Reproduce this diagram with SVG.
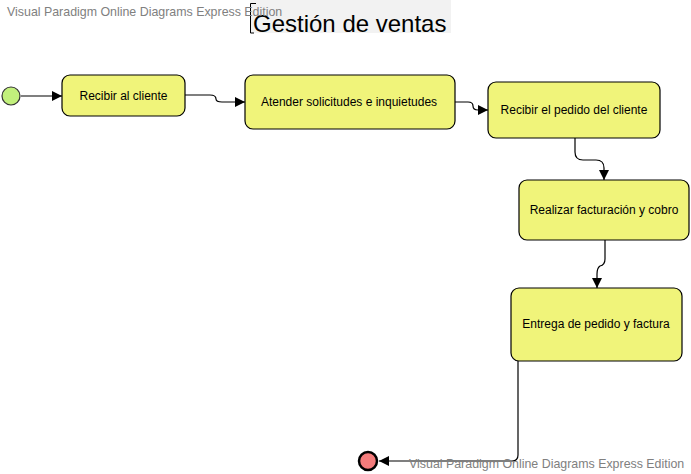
<svg xmlns="http://www.w3.org/2000/svg" width="691" height="474" viewBox="0 0 691 474">
<defs>
<style>
.node rect{fill:#f0f47a;stroke:#000;stroke-width:1.2}
.node text{font-family:"Liberation Sans",Arial,sans-serif;font-size:12px;fill:#000;text-anchor:middle}
.wm{font-family:"Liberation Sans",Arial,sans-serif;font-size:12.4px;fill:#808080}
.conn path{fill:none;stroke:#000;stroke-width:1.2}
</style>
<marker id="arr" viewBox="0 0 10 10" refX="10" refY="5" markerWidth="10" markerHeight="10" markerUnits="userSpaceOnUse" orient="auto">
<path d="M0,0 L10,5 L0,10 z" fill="#000"/>
</marker>
</defs>
<rect x="0" y="0" width="691" height="474" fill="#fff"/>
<g id="title">
<rect x="250" y="0" width="201" height="33" fill="#f2f2f2"/>
<path d="M256,3.5 H250.5 V33 H254" fill="none" stroke="#000" stroke-width="1"/>
<text x="253" y="32" font-family="Liberation Sans,Arial,sans-serif" font-size="24" fill="#000">Gestión de ventas</text>
</g>
<text class="wm" x="7" y="16">Visual Paradigm Online Diagrams Express Edition</text>
<g class="conn" id="connectors">
<path d="M21,96 H62" marker-end="url(#arr)"/>
<path d="M185,95 H210 Q216,95 216,99 Q216,102 222,102 H245" marker-end="url(#arr)"/>
<path d="M455,102 H468 Q473,102 473,106 Q473,110 478,110 H488" marker-end="url(#arr)"/>
<path d="M575,138 V152 Q575,160 583,160 H596 Q604,160 604,168 V180" marker-end="url(#arr)"/>
<path d="M605,240 V259 Q605,265 600,266 Q597,268 597,274 V288" marker-end="url(#arr)"/>
<path d="M518,361 V455 Q518,461 512,461 H379" marker-end="url(#arr)"/>
</g>
<g id="start"><circle cx="11" cy="96" r="9" fill="#c2f07c" stroke="#333" stroke-width="1.2"/></g>
<g id="n1" class="node"><rect x="62" y="75" width="123" height="41" rx="8"/><text x="123.5" y="100">Recibir al cliente</text></g>
<g id="n2" class="node"><rect x="245" y="75" width="210" height="54" rx="8"/><text x="349" y="106">Atender solicitudes e inquietudes</text></g>
<g id="n3" class="node"><rect x="488" y="82" width="172" height="56" rx="8"/><text x="574" y="114">Recibir el pedido del cliente</text></g>
<g id="n4" class="node"><rect x="519" y="180" width="170" height="60" rx="8"/><text x="604" y="214">Realizar facturación y cobro</text></g>
<g id="n5" class="node"><rect x="511" y="288" width="171" height="73" rx="8"/><text x="596" y="328">Entrega de pedido y factura</text></g>
<g id="end"><circle cx="368" cy="461" r="9" fill="#f47c7c" stroke="#000" stroke-width="2.5"/></g>
<text class="wm" x="409" y="468">Visual Paradigm Online Diagrams Express Edition</text>
</svg>
